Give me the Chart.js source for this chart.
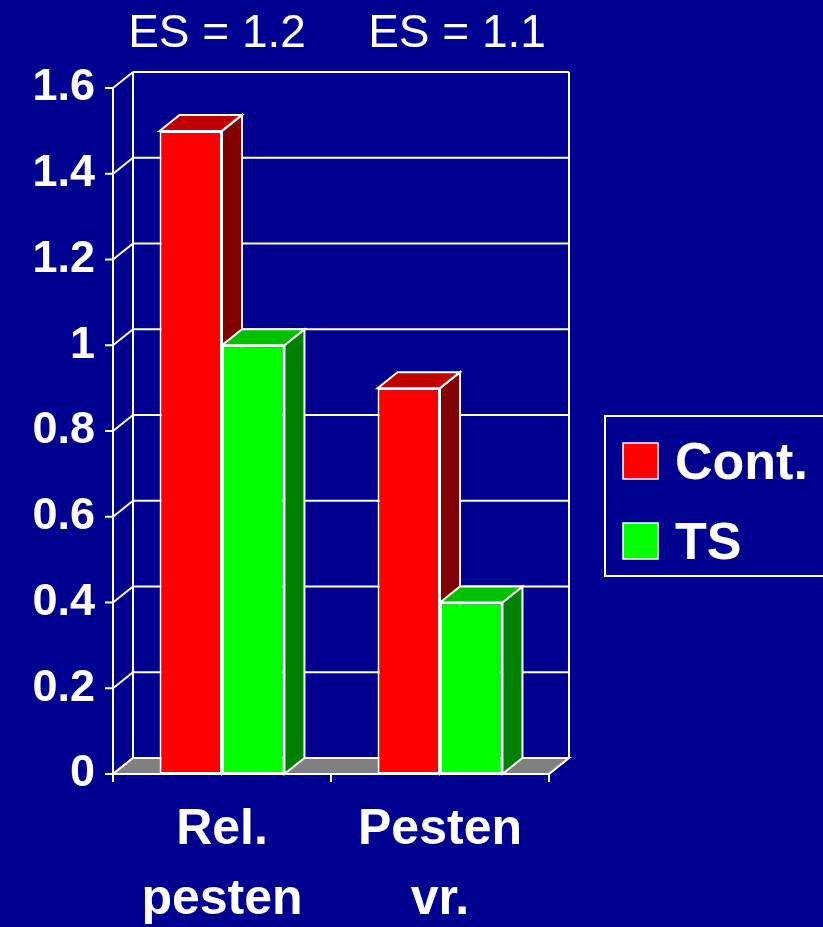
<!DOCTYPE html>
<html>
<head>
<meta charset="utf-8">
<script src="https://cdn.jsdelivr.net/npm/chart.js@4.4.0/dist/chart.umd.min.js"></script>
<style>
  html, body { margin: 0; padding: 0; background: #000090; }
  canvas { display: block; }
</style>
</head>
<body>
<canvas id="chart" width="823" height="927"></canvas>
<script>
// ---------------- DATA ----------------

const categories = [["Rel.", "pesten"], ["Pesten", "vr."]];
const contValues = [1.5, 0.9];
const tsValues = [1.0, 0.4];
const seriesNames = ["Cont.", "TS"];
const esLabels = ["ES = 1.2", "ES = 1.1"];
const yTickLabels = ["0", "0.2", "0.4", "0.6", "0.8", "1", "1.2", "1.4", "1.6"];

// ---------------- LOOK ----------------

const FONT = '"Liberation Sans", Arial, sans-serif';
const DX = 20, DY = -16; // depth of the 3d box

const faceColors = {
    "#ff0000": { side: "#800000", top: "#c00000" },
    "#00ff00": { side: "#008000", top: "#00c000" }
};

function line(ctx, x1, y1, x2, y2) {
    ctx.beginPath();
    ctx.moveTo(x1, y1);
    ctx.lineTo(x2, y2);
    ctx.stroke();
}

function poly(ctx, pts, fill) {
    ctx.beginPath();
    ctx.moveTo(pts[0][0], pts[0][1]);
    pts.slice(1).forEach(p => ctx.lineTo(p[0], p[1]));
    ctx.closePath();
    ctx.fillStyle = fill;
    ctx.fill();
    ctx.stroke();
}

// walls, floor and the side/top faces of the bars
const threeD = {
    id: "threeD",
    beforeDatasetsDraw(chart) {
        const ctx = chart.ctx;
        const { left, right, top, bottom } = chart.chartArea;
        const ys = chart.scales.y;
        const xs = chart.scales.x;

        ctx.save();
        ctx.strokeStyle = "#ffffff";
        ctx.lineWidth = 2;

        ys.ticks.forEach(t => {
            const py = ys.getPixelForValue(t.value);
            line(ctx, left, py, left + DX, py + DY);
            line(ctx, left + DX, py + DY, right + DX, py + DY);
            line(ctx, left - 8, py, left, py);
        });
        line(ctx, left + DX, top + DY, left + DX, bottom + DY);
        line(ctx, right + DX, top + DY, right + DX, bottom + DY);
        line(ctx, left, top, left, bottom);

        poly(ctx, [[left, bottom], [right, bottom], [right + DX, bottom + DY], [left + DX, bottom + DY]], "#808080");

        for (let i = 0; i <= categories.length; i++) {
            const px = xs.getPixelForValue(i - 0.5);
            line(ctx, px, bottom, px, bottom + 8);
        }

        const bars = [];
        chart.data.datasets.forEach((ds, di) => {
            chart.getDatasetMeta(di).data.forEach(el => {
                const p = el.getProps(["x", "y", "base", "width"], true);
                bars.push({ x: p.x, y: p.y, base: p.base, width: p.width, color: ds.backgroundColor });
            });
        });
        bars.sort((a, b) => a.x - b.x);
        bars.forEach(b => {
            const l = b.x - b.width / 2, r = b.x + b.width / 2;
            const c = faceColors[b.color];
            poly(ctx, [[r, b.y], [r + DX, b.y + DY], [r + DX, b.base + DY], [r, b.base]], c.side);
            poly(ctx, [[l, b.y], [r, b.y], [r + DX, b.y + DY], [l + DX, b.y + DY]], c.top);
        });
        ctx.restore();
    },
    afterDraw(chart) {
        const ctx = chart.ctx;
        const xs = chart.scales.x;
        ctx.save();

        // ES labels above the groups
        ctx.fillStyle = "#ffffff";
        ctx.font = "46px " + FONT;
        ctx.textAlign = "center";
        ctx.textBaseline = "alphabetic";
        const shift = [-5, 17];
        esLabels.forEach((t, i) => {
            ctx.fillText(t, xs.getPixelForValue(i) + shift[i], 47);
        });

        // legend
        ctx.strokeStyle = "#ffffff";
        ctx.lineWidth = 2;
        ctx.strokeRect(605, 416, 240, 160);
        ctx.textAlign = "left";
        ctx.font = "bold 52px " + FONT;
        chart.data.datasets.forEach((ds, i) => {
            const sy = 443 + i * 80;
            ctx.fillStyle = ds.backgroundColor;
            ctx.fillRect(623, sy, 35, 36);
            ctx.lineWidth = 1.5;
            ctx.strokeRect(623, sy, 35, 36);
            ctx.fillStyle = "#ffffff";
            ctx.fillText(ds.label, 675, sy + 36);
        });
        ctx.restore();
    }
};

// ---------------- CHART ----------------

const ctx = document.getElementById("chart").getContext("2d");

new Chart(ctx, {
    type: "bar",
    data: {
        labels: categories,
        datasets: [
            {
                label: seriesNames[0],
                data: contValues,
                backgroundColor: "#ff0000",
                borderColor: "#ffffff",
                borderWidth: 2,
                borderSkipped: false
            },
            {
                label: seriesNames[1],
                data: tsValues,
                backgroundColor: "#00ff00",
                borderColor: "#ffffff",
                borderWidth: 2,
                borderSkipped: false
            }
        ]
    },
    options: {
        responsive: false,
        animation: false,
        categoryPercentage: 0.573,
        barPercentage: 1,
        layout: { padding: { top: 88, right: 274, left: 0, bottom: 0 } },
        plugins: {
            legend: { display: false },
            tooltip: { enabled: false }
        },
        scales: {
            x: {
                grid: { display: false, drawTicks: false },
                border: { display: false },
                ticks: {
                    color: "#ffffff",
                    padding: 21,
                    maxRotation: 0,
                    font: { family: FONT, size: 50, weight: "bold", lineHeight: 1.4 }
                },
                afterFit(scale) { scale.height = 153; }
            },
            y: {
                min: 0,
                max: 1.6,
                grid: { display: false, drawTicks: false },
                border: { display: false },
                ticks: {
                    stepSize: 0.2,
                    color: "#ffffff",
                    padding: 18,
                    font: { family: FONT, size: 45, weight: "bold" },
                    callback: (v, i) => yTickLabels[i]
                },
                afterFit(scale) { scale.width = 113; }
            }
        }
    },
    plugins: [threeD]
});
</script>
</body>
</html>
